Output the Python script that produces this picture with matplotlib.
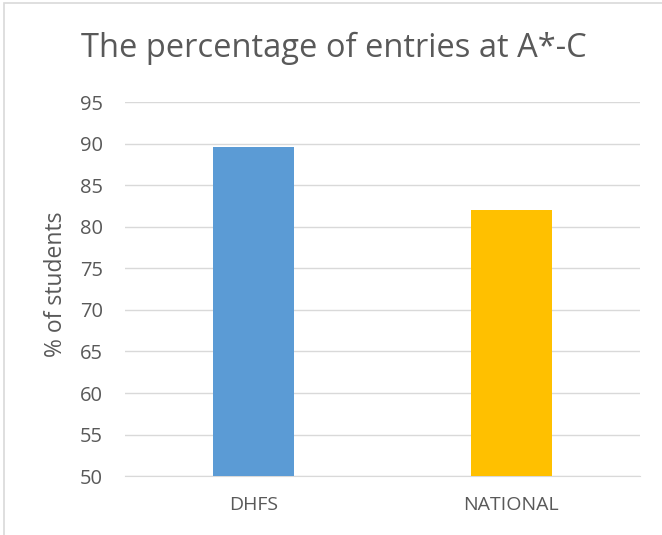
import matplotlib
matplotlib.use("Agg")
import matplotlib.pyplot as plt
from matplotlib.patches import Rectangle

categories = ["DHFS", "NATIONAL"]
values = [89.6, 82.0]
colors = ["#5B9BD5", "#FFC000"]
yticks = [50, 55, 60, 65, 70, 75, 80, 85, 90, 95]

plt.rcParams["font.family"] = ["Open Sans", "DejaVu Sans"]
txt = "#595959"

fig = plt.figure(figsize=(6.62, 5.35), dpi=100)
ax = fig.add_axes([0.189, 0.110, 0.778, 0.699])
x = range(len(categories))
ax.bar(x, values, width=0.315, color=colors, zorder=3)
ax.set_xlim(-0.5, 1.5)
ax.set_ylim(50, 95)
ax.set_yticks(yticks)
ax.set_xticks(list(x))
ax.set_xticklabels(categories, fontsize=14, color=txt)
ax.tick_params(axis="y", labelsize=14.5, labelcolor=txt, length=0, pad=16)
ax.tick_params(axis="x", length=0, pad=14)
ax.grid(axis="y", color="#D9D9D9", linewidth=1, zorder=0)
for s in ["top", "right", "left"]:
    ax.spines[s].set_visible(False)
ax.spines["bottom"].set_color("#D9D9D9")
ax.set_ylabel("% of students", fontsize=16.5, color=txt)
ax.yaxis.set_label_coords(-0.11, 0.513)
fig.text(0.505, 0.91, "The percentage of entries at A*-C", ha="center", va="center",
         fontsize=23.5, color=txt)
# outer chart frame
fig.patches.append(Rectangle((0.006, -0.01), 1.0, 1.004, transform=fig.transFigure,
                             fill=False, edgecolor="#D9D9D9", linewidth=1.2))
fig.savefig("out.png", dpi=100)
